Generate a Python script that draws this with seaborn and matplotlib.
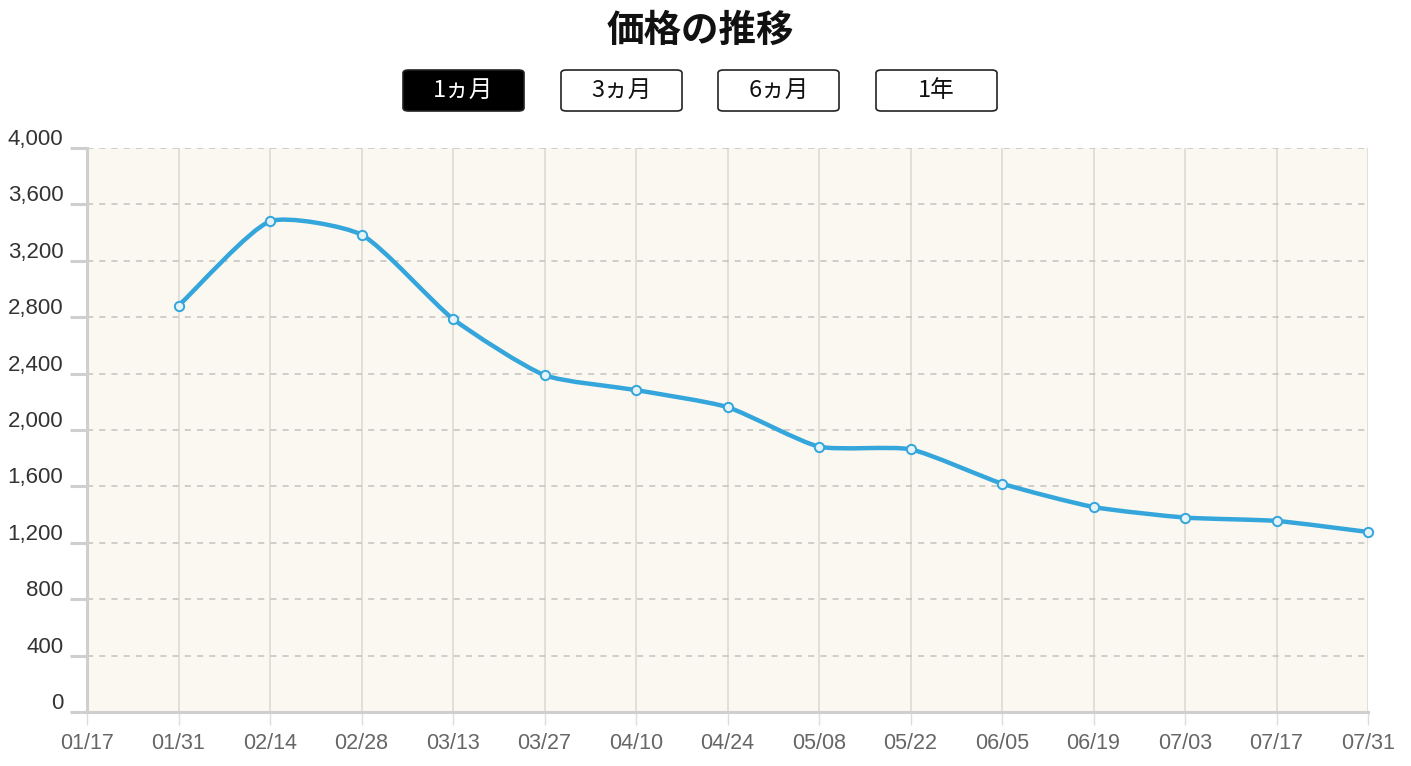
import numpy as np
import pandas as pd
import matplotlib
matplotlib.use("Agg")
import matplotlib.pyplot as plt
from matplotlib.path import Path
from matplotlib.patches import PathPatch, FancyBboxPatch
from matplotlib.transforms import ScaledTranslation
import seaborn as sns

# ---- data ----
tick_labels = ["01/17", "01/31", "02/14", "02/28", "03/13", "03/27", "04/10", "04/24",
               "05/08", "05/22", "06/05", "06/19", "07/03", "07/17", "07/31"]
dates = ["01/31", "02/14", "02/28", "03/13", "03/27", "04/10", "04/24",
         "05/08", "05/22", "06/05", "06/19", "07/03", "07/17", "07/31"]
prices = [2882, 3480, 3385, 2788, 2389, 2283, 2162, 1882, 1863, 1620, 1454, 1379, 1355, 1277]
y_ticks = [0, 400, 800, 1200, 1600, 2000, 2400, 2800, 3200, 3600, 4000]
title = "価格の推移"
buttons = ["1ヵ月", "3ヵ月", "6ヵ月", "1年"]

df = pd.DataFrame({"date": dates, "price": prices})
df["pos"] = [tick_labels.index(d) for d in df["date"]]

sns.set_style("white")
plt.rcParams["font.family"] = ["Liberation Sans", "Noto Sans CJK JP", "DejaVu Sans"]

BLUE = "#34A6DB"
W, H = 1411, 766
fig = plt.figure(figsize=(W / 100, H / 100), dpi=100)
ax = fig.add_axes([87 / W, 1 - 712 / H, (1368 - 87) / W, (712 - 148) / H])
ax.set_facecolor("#FAF8F0")

ax.set_xlim(0, len(tick_labels) - 1)
ax.set_ylim(0, 4000)

# grid
for i in range(1, len(tick_labels)):
    ax.axvline(i, color="#DEDBD3", lw=1.2, zorder=1)
for v in y_ticks[1:]:
    ax.axhline(v, color="#C4C2BC", lw=1.1, ls=(0, (4, 4)), zorder=1)

# smooth curve (Chart.js style tension spline) computed in pixel space
fig.canvas.draw()
pts = ax.transData.transform(np.column_stack([df["pos"].values, df["price"].values]))
t = 0.2
n = len(pts)
cp_prev = np.zeros_like(pts)
cp_next = np.zeros_like(pts)
for i in range(n):
    cur = pts[i]
    prv = pts[i - 1] if i > 0 else cur
    nxt = pts[i + 1] if i < n - 1 else cur
    d01 = np.hypot(*(cur - prv))
    d12 = np.hypot(*(nxt - cur))
    s = d01 + d12
    s01 = d01 / s if s else 0
    s12 = d12 / s if s else 0
    cp_prev[i] = cur - t * s01 * (nxt - prv)
    cp_next[i] = cur + t * s12 * (nxt - prv)
verts = [pts[0]]
codes = [Path.MOVETO]
for i in range(n - 1):
    verts += [cp_next[i], cp_prev[i + 1], pts[i + 1]]
    codes += [Path.CURVE4] * 3
inv = ax.transData.inverted()
verts_data = inv.transform(np.array(verts))
ax.add_patch(PathPatch(Path(verts_data, codes), facecolor="none", edgecolor=BLUE,
                       lw=3.2, capstyle="round", joinstyle="round", zorder=3))

sns.scatterplot(data=df, x="pos", y="price", ax=ax, s=45, marker="o",
                facecolor="#E4F2FA", edgecolor=BLUE, linewidth=1.4, zorder=4,
                legend=False, clip_on=False)

# axes styling
for side in ["top", "right"]:
    ax.spines[side].set_visible(False)
for side in ["left", "bottom"]:
    ax.spines[side].set_color("#CFCFCF")
    ax.spines[side].set_linewidth(2.2)

ax.set_xticks(range(len(tick_labels)))
ax.set_xticklabels(tick_labels)
ax.set_yticks(y_ticks)
ax.set_yticklabels([f"{v:,}" for v in y_ticks])
ax.set_xlabel("")
ax.set_ylabel("")
ax.tick_params(axis="x", bottom=True, length=9, width=1.0, color="#DDDDDD", pad=6,
               labelsize=15.5, labelcolor="#666666")
ax.tick_params(axis="y", left=True, length=12, width=2.2, color="#CFCFCF", pad=5,
               labelsize=16, labelcolor="#333333")
off = ScaledTranslation(0, 11 / 100, fig.dpi_scale_trans)
for lab in ax.get_yticklabels():
    lab.set_transform(lab.get_transform() + off)

# title
fig.text(700 / W, 1 - 30 / H, title, ha="center", va="center", fontsize=27,
         fontweight="bold", family=["Noto Sans CJK JP", "DejaVu Sans"], color="#111111")

# buttons
bx = [403, 561, 718, 876]
bw, bh = 121, 41
by = 70
for i, (x0, lab) in enumerate(zip(bx, buttons)):
    active = i == 0
    patch = FancyBboxPatch((x0 / W, 1 - (by + bh) / H), bw / W, bh / H,
                           boxstyle="round,pad=0,rounding_size=0.004",
                           transform=fig.transFigure,
                           facecolor="#000000" if active else "#FFFFFF",
                           edgecolor="#222222", lw=1.2)
    fig.add_artist(patch)
    fig.text((x0 + bw / 2) / W, 1 - (by + bh / 2) / H, lab, ha="center", va="center",
             fontsize=17, family=["Noto Sans CJK JP", "DejaVu Sans"],
             color="#FFFFFF" if active else "#111111")

fig.savefig("out.png", dpi=100)
